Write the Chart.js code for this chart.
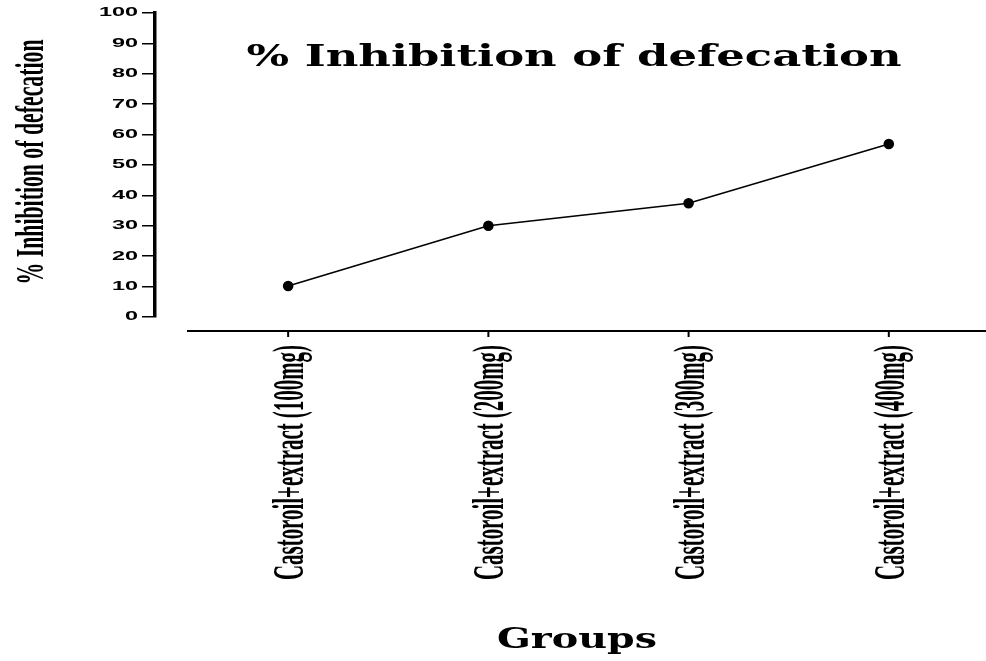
<!DOCTYPE html>
<html>
<head>
<meta charset="utf-8">
<script src="https://cdn.jsdelivr.net/npm/chart.js@4.4.0/dist/chart.umd.min.js"></script>
<style>
  html, body { margin: 0; padding: 0; background: #fff; }
  #wrap { width: 986px; height: 661px; }
</style>
</head>
<body>
<div id="wrap"><canvas id="myChart" width="986" height="661"></canvas></div>
<script>
// Chart data
var groups = [
    'Castoroil+extract (100mg)',
    'Castoroil+extract (200mg)',
    'Castoroil+extract (300mg)',
    'Castoroil+extract (400mg)'
];
var inhibition = [10.2, 30.0, 37.4, 56.9];
var yTicks = [0, 10, 20, 30, 40, 50, 60, 70, 80, 90, 100];
var chartTitle = '% Inhibition of defecation';
var yTitle = '% Inhibition of defecation';
var xTitle = 'Groups';

// draws text squeezed or stretched along its length to a given width
function fitText(ctx, text, font, width, align) {
    ctx.font = font;
    var w = ctx.measureText(text).width;
    ctx.scale(width / w, 1);
    ctx.textAlign = align;
    ctx.textBaseline = 'alphabetic';
    ctx.fillText(text, 0, 0);
}

var axesText = {
    id: 'axesText',
    afterDraw: function (chart) {
        var ctx = chart.ctx;
        var area = chart.chartArea;
        var xs = chart.scales.x;
        var ys = chart.scales.y;
        ctx.save();
        ctx.fillStyle = '#000';
        ctx.strokeStyle = '#000';

        // y tick labels (wide bold sans)
        yTicks.forEach(function (v) {
            ctx.save();
            ctx.translate(area.left - 17, ys.getPixelForValue(v));
            ctx.scale(1.95, 1);
            ctx.font = 'bold 12px "Liberation Sans"';
            ctx.textAlign = 'right';
            ctx.textBaseline = 'middle';
            ctx.fillText(String(v), 0, 0);
            ctx.restore();
        });

        // detached x axis below the plot
        var axisY = area.bottom + 14;
        ctx.lineWidth = 2;
        ctx.beginPath();
        ctx.moveTo(area.left + 32, axisY);
        ctx.lineTo(chart.width, axisY);
        ctx.stroke();

        groups.forEach(function (g, i) {
            var px = xs.getPixelForValue(i);
            ctx.beginPath();
            ctx.moveTo(px, axisY);
            ctx.lineTo(px, axisY + 6);
            ctx.stroke();

            ctx.save();
            ctx.translate(px + 15, axisY + 14);
            ctx.rotate(-Math.PI / 2);
            fitText(ctx, g, 'bold 45px "Liberation Serif"', 235, 'right');
            ctx.restore();
        });

        // y axis title
        ctx.save();
        ctx.translate(43, 162);
        ctx.rotate(-Math.PI / 2);
        fitText(ctx, yTitle, 'bold 40px "Liberation Serif"', 245, 'center');
        ctx.restore();

        // chart title
        ctx.save();
        ctx.translate(574, 66);
        fitText(ctx, chartTitle, 'bold 30px "DejaVu Serif"', 655, 'center');
        ctx.restore();

        // x axis title
        ctx.save();
        ctx.translate(577, 648);
        fitText(ctx, xTitle, 'bold 28px "DejaVu Serif"', 160, 'center');
        ctx.restore();

        ctx.restore();
    }
};

var ctx = document.getElementById('myChart').getContext('2d');
var myChart = new Chart(ctx, {
    type: 'line',
    data: {
        datasets: [{
            label: yTitle,
            data: inhibition.map(function (v, i) { return { x: i, y: v }; }),
            borderColor: '#000',
            backgroundColor: '#000',
            borderWidth: 1.6,
            pointRadius: 4.5,
            pointBackgroundColor: '#000',
            pointBorderColor: '#000',
            tension: 0
        }]
    },
    options: {
        responsive: false,
        animation: false,
        devicePixelRatio: 1,
        layout: {
            padding: { top: 13, bottom: 344, left: 0, right: 0 }
        },
        plugins: {
            legend: { display: false },
            tooltip: { enabled: false }
        },
        scales: {
            x: {
                type: 'linear',
                display: false,
                min: -0.665,
                max: 3.455
            },
            y: {
                min: 0,
                max: 100,
                ticks: { display: false, stepSize: 10 },
                grid: {
                    drawOnChartArea: false,
                    drawTicks: true,
                    tickLength: 13,
                    color: '#000',
                    lineWidth: 1.5
                },
                border: { display: true, color: '#000', width: 3.5 },
                afterFit: function (scale) { scale.width = 155; }
            }
        }
    },
    plugins: [axesText]
});
</script>
</body>
</html>
